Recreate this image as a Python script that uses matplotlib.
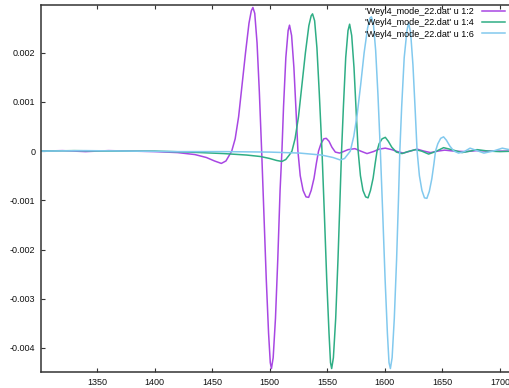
import matplotlib
matplotlib.use("Agg")
import matplotlib.pyplot as plt

plt.rcParams['font.family'] = ['Liberation Sans', 'DejaVu Sans']

# purple: 'Weyl4_mode_22.dat' u 1:2   (y in units of 1e-3)
x2 = [1301, 1320, 1340, 1360, 1380, 1400, 1420, 1435, 1445, 1452, 1458, 1462, 1465, 1467,
      1470, 1473, 1476, 1479, 1482, 1484, 1485.4, 1487, 1489, 1491, 1493, 1495, 1497, 1499,
      1500.5, 1501.5, 1503, 1505, 1507, 1509, 1510.6, 1512, 1514, 1516, 1517.2, 1519, 1521,
      1523, 1524.5, 1526.5, 1529, 1531.5, 1533.8, 1536, 1538.5, 1540.5, 1542.4, 1544.5, 1547,
      1549.1, 1551.5, 1554, 1557, 1560.7, 1564, 1568, 1574, 1579, 1584.5, 1590, 1595, 1600.4,
      1606, 1611, 1616, 1622, 1628, 1634, 1639.6, 1646, 1652, 1660, 1670, 1680, 1690, 1700, 1714]
y2 = [0.0, 0.01, -0.01, 0.01, 0.0, -0.01, -0.03, -0.07, -0.13, -0.20, -0.25, -0.20, -0.08, 0.0,
      0.25, 0.7, 1.35, 2.0, 2.6, 2.85, 2.92, 2.8, 2.2, 1.2, 0.0, -1.3, -2.6, -3.7,
      -4.3, -4.42, -4.2, -3.4, -2.2, -0.8, 0.0, 0.9, 1.9, 2.45, 2.56, 2.35, 1.7,
      0.75, 0.0, -0.5, -0.8, -0.93, -0.94, -0.8, -0.55, -0.25, 0.0, 0.15, 0.25,
      0.26, 0.2, 0.08, -0.02, -0.04, -0.01, 0.03, 0.05, 0.0, -0.05, -0.01, 0.04, 0.06,
      0.03, -0.01, -0.04, 0.0, 0.04, 0.0, -0.03, 0.0, 0.02, 0.0, -0.01, 0.01, 0.0, 0.0, 0.0]

# green: 'Weyl4_mode_22.dat' u 1:4
x4 = [1301, 1330, 1360, 1400, 1430, 1460, 1480, 1492, 1500, 1506, 1510.6, 1514, 1517, 1519.3,
      1522, 1525, 1528, 1531, 1534, 1536, 1537.2, 1539, 1541, 1543, 1545.4, 1547.5, 1549.5,
      1551.5, 1552.8, 1553.8, 1555.3, 1557.3, 1559.3, 1561, 1562.4, 1564, 1566, 1568, 1569.4,
      1571.2, 1573.2, 1575.2, 1576.8, 1578.8, 1581, 1583.3, 1585.4, 1587.5, 1589.8, 1591.6,
      1593.2, 1595, 1597.6, 1600.4, 1603, 1606, 1610, 1614.9, 1620, 1626.5, 1632, 1638, 1644,
      1651, 1658, 1667, 1674, 1680, 1690, 1700, 1714]
y4 = [0.0, 0.01, 0.0, 0.0, -0.02, -0.05, -0.08, -0.11, -0.15, -0.19, -0.21, -0.17, -0.08, 0.0,
      0.25, 0.7, 1.35, 2.0, 2.55, 2.75, 2.79, 2.65, 2.1, 1.2, 0.0, -1.3, -2.6,
      -3.7, -4.3, -4.42, -4.2, -3.4, -2.2, -1.0, 0.0, 0.9, 1.9, 2.45, 2.58,
      2.35, 1.7, 0.75, 0.0, -0.5, -0.8, -0.93, -0.95, -0.8, -0.55, -0.25,
      0.0, 0.15, 0.25, 0.28, 0.2, 0.08, -0.02, -0.05, -0.01, 0.03, 0.0, -0.06, -0.01,
      0.07, 0.03, -0.03, 0.0, 0.03, 0.0, -0.01, 0.0]

# light blue: 'Weyl4_mode_22.dat' u 1:6
x6 = [1301, 1340, 1380, 1420, 1460, 1500, 1526, 1545, 1555, 1561.3, 1565, 1568, 1570,
      1573, 1576, 1579, 1582, 1585, 1587, 1588.3, 1590, 1592, 1594, 1596.1, 1598.2, 1600.2,
      1602.2, 1603.6, 1604.8, 1606.3, 1608.2, 1610.2, 1611.8, 1613, 1614.6, 1616.8, 1619.2,
      1620.6, 1622.4, 1624.4, 1626.4, 1628, 1630, 1632.2, 1634.4, 1636.5, 1638.6, 1640.8,
      1642.6, 1644, 1646, 1648.5, 1651, 1653.5, 1656.5, 1660, 1664, 1669, 1674, 1680, 1686,
      1694, 1702, 1708, 1714]
y6 = [0.0, 0.01, 0.0, -0.01, -0.01, -0.02, -0.04, -0.08, -0.13, -0.18, -0.15, -0.06, 0.0,
      0.3, 0.75, 1.35, 2.0, 2.5, 2.7, 2.73, 2.6, 2.05, 1.15, 0.0, -1.3, -2.6,
      -3.7, -4.3, -4.42, -4.2, -3.4, -2.2, -1.0, 0.0, 0.9, 1.9, 2.45,
      2.61, 2.4, 1.75, 0.8, 0.0, -0.5, -0.8, -0.95, -0.96, -0.82, -0.56,
      -0.26, 0.0, 0.15, 0.26, 0.29, 0.22, 0.1, 0.0, -0.04, -0.01, 0.06, 0.01, -0.04,
      0.0, 0.06, 0.03, 0.0]

labels = ["'Weyl4_mode_22.dat' u 1:2", "'Weyl4_mode_22.dat' u 1:4", "'Weyl4_mode_22.dat' u 1:6"]
colors = ['#a847e3', '#2fae85', '#82c9ee']
xticks = [1350, 1400, 1450, 1500, 1550, 1600, 1650, 1700]
yticks = [-0.004, -0.003, -0.002, -0.001, 0, 0.001, 0.002]
ytick_labels = ['-0.004', '-0.003', '-0.002', '-0.001', '0', '0.001', '0.002']

W, H = 510, 388
fig = plt.figure(figsize=(W / 100, H / 100), dpi=100)
left, right, top, bottom = 41, 516, 5, 372
ax = fig.add_axes([left / W, 1 - bottom / H, (right - left) / W, (bottom - top) / H])

for xs, ys, c, lab in zip([x2, x4, x6], [y2, y4, y6], colors, labels):
    ax.plot(xs, [v * 1e-3 for v in ys], color=c, lw=1.1, label=lab)

px_per_unit = (500 - 97) / 350.0
x0 = 1350 - (97 - left) / px_per_unit
x1 = x0 + (right - left) / px_per_unit
ax.set_xlim(x0, x1)
ax.set_ylim(-0.00449, 0.00297)
ax.set_xticks(xticks)
ax.set_xticklabels([str(t) for t in xticks])
ax.set_yticks(yticks)
ax.set_yticklabels(ytick_labels)
ax.tick_params(direction='in', length=3, width=0.8, top=True, right=True,
               labelsize=6.5, pad=4, colors='#333333', labelcolor='#111111')
for s in ax.spines.values():
    s.set_linewidth(1.1)
    s.set_color('#333333')

leg = ax.legend(loc='upper right', bbox_to_anchor=(505 / W, 1 - 7 / H),
                bbox_transform=fig.transFigure, frameon=False, markerfirst=False,
                fontsize=6.5, handlelength=2.6, handletextpad=0.9, labelspacing=0.25,
                borderaxespad=0, borderpad=0)

fig.savefig('out.png', dpi=100)
